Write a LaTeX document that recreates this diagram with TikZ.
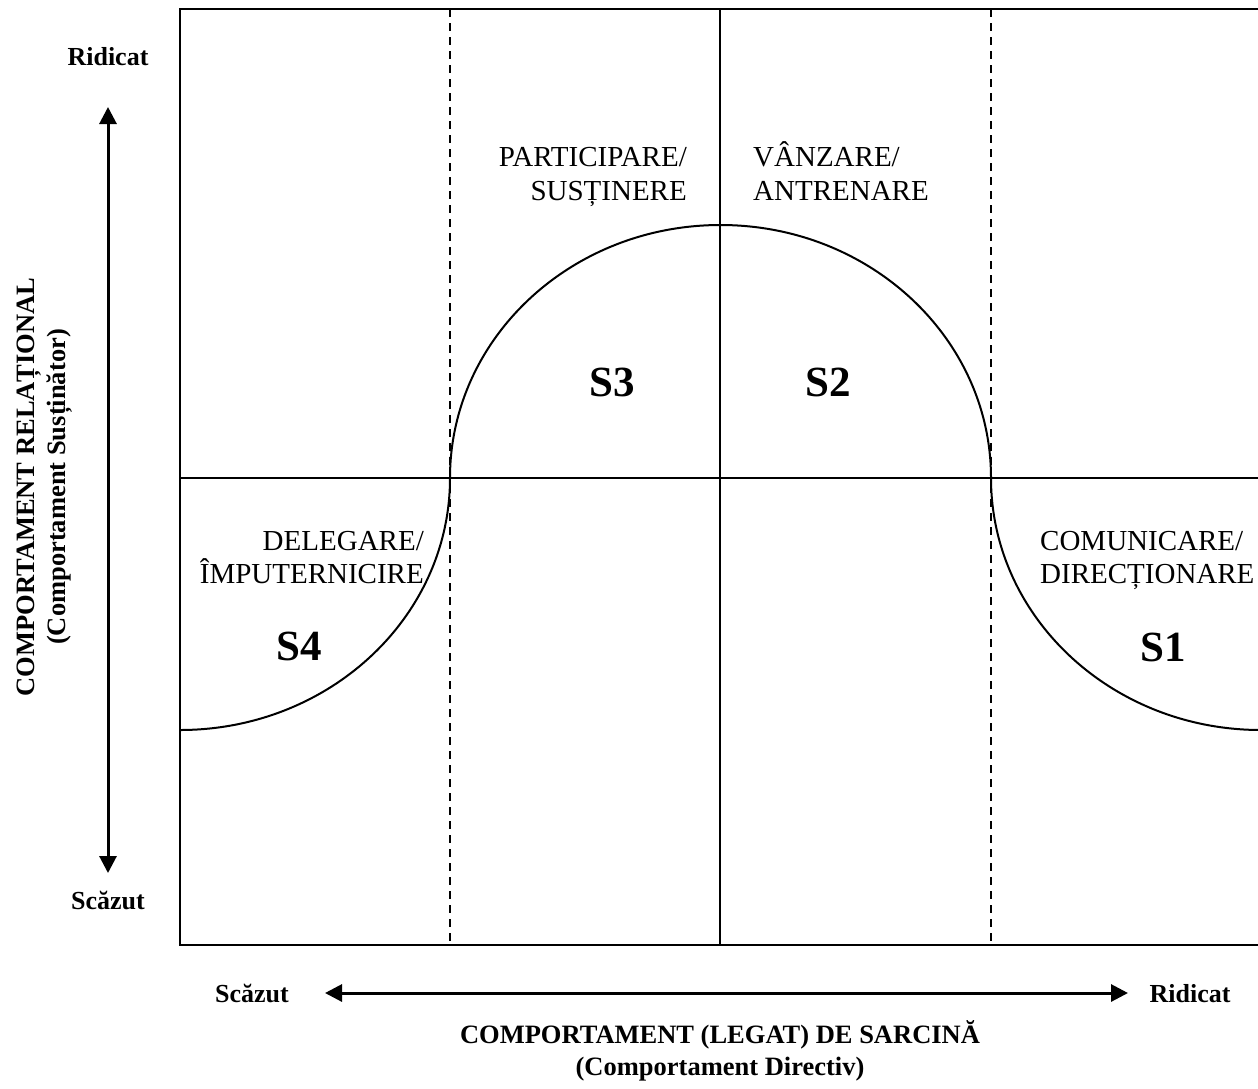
\documentclass[tikz,border=0pt]{standalone}
\usepackage{fontspec}
\setmainfont{Liberation Serif}
\usetikzlibrary{arrows.meta}
\begin{document}
\begin{tikzpicture}[x=1pt,y=-1pt,
  lbl/.style={font=\fontsize{29}{34}\selectfont, inner sep=0pt},
  axlbl/.style={font=\fontsize{26}{31}\bfseries\selectfont, inner sep=0pt},
  ttl/.style={font=\fontsize{26.5}{31}\bfseries\selectfont, inner sep=0pt},
  slbl/.style={font=\fontsize{43}{50}\bfseries\selectfont, inner sep=0pt},
  boxline/.style={line width=2.4pt},
  midline/.style={line width=1.7pt},
  thinline/.style={line width=1.2pt},
  dashline/.style={line width=1.5pt, dash pattern=on 8pt off 6pt},
  curve/.style={line width=2pt},
  axisarrow/.style={line width=3pt, {Triangle[length=17pt,width=17pt]}-{Triangle[length=17pt,width=17pt]}}
]
\useasboundingbox (0,0) rectangle (1258,1088);

% frame and grid
\coordinate (tl) at (180,9);
\coordinate (bl) at (180,945);
\coordinate (tr) at (1262,9);
\coordinate (br) at (1262,945);
\draw[boxline] (tr) -- (tl) -- (bl) -- (br);
\coordinate (ct) at (720,9);
\coordinate (cb) at (720,945);
\draw[midline] (ct) -- (cb);
\coordinate (d1t) at (450,9);
\coordinate (d1b) at (450,945);
\coordinate (d2t) at (991,9);
\coordinate (d2b) at (991,945);
\draw[dashline] (d1t) -- (d1b);
\draw[dashline] (d2t) -- (d2b);
\coordinate (ml) at (180,478);
\coordinate (mr) at (1262,478);
\coordinate (m1) at (450,478);
\coordinate (m2) at (991,478);
\draw[thinline] (ml) -- (mr);
\draw[curve] (m1) -- (m2);

% curves
\draw[curve] (m1) arc[start angle=180, end angle=360, x radius=270.5, y radius=253];
\draw[curve] (180,730) arc[start angle=90, end angle=0, x radius=270, y radius=252];
\draw[curve] (m2) arc[start angle=180, end angle=90, x radius=270, y radius=252];

% quadrant labels
\node[lbl, anchor=base east] (p1) at (687,166) {PARTICIPARE/};
\node[lbl, anchor=base east] (p2) at (687,200) {SUSȚINERE};
\node[lbl, anchor=base west] (v1) at (753,166) {VÂNZARE/};
\node[lbl, anchor=base west] (v2) at (753,200) {ANTRENARE};
\node[lbl, anchor=base east] (d1) at (424,550) {DELEGARE/};
\node[lbl, anchor=base east] (d2) at (424,583) {ÎMPUTERNICIRE};
\node[lbl, anchor=base west] (c1) at (1040,550) {COMUNICARE/};
\node[lbl, anchor=base west] (c2) at (1040,583) {DIRECȚIONARE};

\node[slbl] (s3) at (612,382) {S3};
\node[slbl] (s2) at (828,382) {S2};
\node[slbl] (s4) at (299,646) {S4};
\node[slbl] (s1) at (1163,647) {S1};

% vertical axis
\node[axlbl, anchor=base] (yhi) at (108,65) {Ridicat};
\node[axlbl, anchor=base] (ylo) at (108,909) {Scăzut};
\coordinate (ya) at (108,107);
\coordinate (yb) at (108,873);
\draw[axisarrow] (ya) -- (yb);
\node[ttl, anchor=base, rotate=90] (yt1) at (34,487) {COMPORTAMENT RELAȚIONAL};
\node[ttl, anchor=base, rotate=90] (yt2) at (65,487) {(Comportament Susținător)};

% horizontal axis
\node[axlbl, anchor=base] (xlo) at (252,1002) {Scăzut};
\node[axlbl, anchor=base] (xhi) at (1190,1002) {Ridicat};
\coordinate (xa) at (325,993);
\coordinate (xb) at (1128,993);
\draw[axisarrow] (xa) -- (xb);
\node[ttl, anchor=base] (xt1) at (720,1043) {COMPORTAMENT (LEGAT) DE SARCINĂ};
\node[ttl, anchor=base] (xt2) at (720,1075) {(Comportament Directiv)};
\end{tikzpicture}
\end{document}
